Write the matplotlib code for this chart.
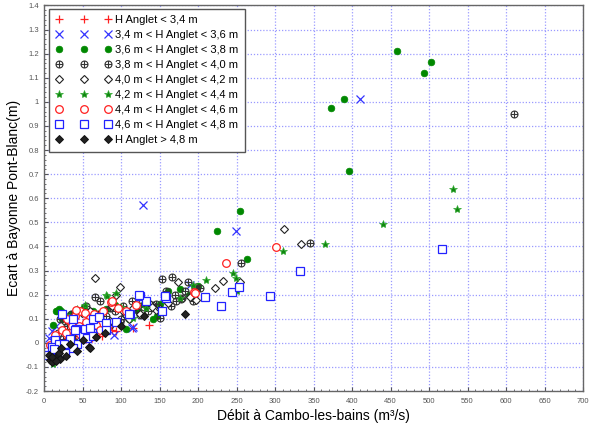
import matplotlib
matplotlib.use("Agg")
import matplotlib.pyplot as plt
from matplotlib.path import Path
from matplotlib.ticker import MultipleLocator
import numpy as np

plt.rcParams['font.family'] = ['Liberation Sans', 'DejaVu Sans']

labels = ["H Anglet < 3,4 m", "3,4 m < H Anglet < 3,6 m", "3,6 m < H Anglet < 3,8 m",
          "3,8 m < H Anglet < 4,0 m", "4,0 m < H Anglet < 4,2 m", "4,2 m < H Anglet < 4,4 m",
          "4,4 m < H Anglet < 4,6 m", "4,6 m < H Anglet < 4,8 m", "H Anglet > 4,8 m"]

x0 = [16, 12, 42, 55, 68, 88, 94, 116, 136, 30, 75, 20, 50, 62]
y0 = [-0.007, -0.028, 0.007, 0.014, 0.034, 0.055, 0.048, 0.062, 0.076, 0.02, 0.03, 0.0, 0.03, 0.02]

x1 = [6, 10, 16, 45, 62, 91, 115, 114, 128, 249, 411, 189]
y1 = [0.021, 0.048, 0.069, 0.048, 0.055, 0.034, 0.065, 0.062, 0.57, 0.465, 1.014, 0.242]

x2 = [12, 16, 22, 23, 29, 52, 64, 92, 107, 122, 142, 147, 161, 176, 200, 225, 254, 264,
      373, 389, 396, 459, 502, 493, 35, 80, 130, 188, 17, 20, 110, 150]
y2 = [0.076, 0.131, 0.134, 0.1, 0.11, 0.148, 0.131, 0.159, 0.058, 0.131, 0.097, 0.11, 0.214,
      0.225, 0.237, 0.465, 0.549, 0.349, 0.973, 1.014, 0.715, 1.211, 1.166, 1.120, 0.12, 0.14,
      0.16, 0.2, 0.131, 0.14, 0.1, 0.16]

x3 = [66, 153, 166, 150, 256, 187, 196, 21, 27, 55, 73, 86, 103, 114, 127, 140, 159, 170, 183,
      202, 47, 60, 86, 99, 112, 125, 135, 12, 25, 40, 345, 610, 35, 80, 120, 178, 172, 165, 179,
      194, 198, 105, 92, 130, 145, 18, 30, 70, 100]
y3 = [0.189, 0.266, 0.272, 0.101, 0.331, 0.252, 0.233, 0.097, 0.09, 0.152, 0.172, 0.145, 0.152,
      0.172, 0.178, 0.159, 0.214, 0.2, 0.214, 0.228, 0.062, 0.073, 0.076, 0.087, 0.109, 0.117,
      0.131, -0.041, 0.014, 0.028, 0.416, 0.951, 0.12, 0.11, 0.14, 0.18, 0.173, 0.152, 0.187,
      0.173, 0.228, 0.12, 0.13, 0.15, 0.16, 0.04, 0.07, 0.12, 0.1]

x4 = [66, 99, 174, 198, 222, 233, 255, 312, 34, 88, 103, 116, 137, 146, 161, 49, 73, 51, 86,
      334, 125, 150, 190, 93, 60, 110, 140]
y4 = [0.269, 0.23, 0.251, 0.177, 0.228, 0.255, 0.252, 0.473, 0.103, 0.152, 0.131, 0.145, 0.166,
      0.138, 0.166, 0.124, 0.11, 0.055, 0.09, 0.41, 0.12, 0.14, 0.19, 0.2, 0.13, 0.1, 0.15]

x5 = [12, 19, 43, 53, 81, 94, 29, 211, 245, 249, 251, 311, 176, 194, 66, 116, 133, 365, 440,
      531, 537, 82, 100, 160]
y5 = [-0.086, -0.055, 0.142, 0.159, 0.197, 0.207, 0.117, 0.259, 0.29, 0.269, 0.217, 0.38, 0.186,
      0.241, 0.11, 0.103, 0.145, 0.411, 0.495, 0.639, 0.556, 0.193, 0.15, 0.19]

x6 = [87, 195, 236, 301, 47, 53, 60, 40, 34, 68, 73, 58, 47, 36, 8, 14, 23, 29, 77, 42, 107,
      120, 96, 196, 88, 65, 55, 45, 30, 82]
y6 = [0.17, 0.21, 0.33, 0.396, 0.131, 0.124, 0.103, 0.11, 0.09, 0.076, 0.055, 0.062, 0.037,
      0.069, -0.01, 0.034, 0.055, 0.041, 0.131, 0.138, 0.131, 0.159, 0.145, 0.207, 0.173,
      0.12, 0.085, 0.07, 0.1, 0.06]

x7 = [24, 38, 42, 64, 72, 80, 81, 62, 50, 40, 32, 14, 11, 5, 20, 112, 125, 133, 158, 153, 209,
      230, 244, 253, 293, 333, 517, 43, 56, 38, 27, 16, 34, 53, 94, 60, 63, 26, 13, 124, 157, 111]
y7 = [0.121, 0.097, 0.059, 0.097, 0.106, 0.083, 0.054, 0.039, 0.028, 0.052, -0.018, 0.010,
      -0.017, -0.051, -0.007, 0.12, 0.196, 0.172, 0.186, 0.134, 0.19, 0.151, 0.21, 0.233, 0.193,
      0.30, 0.389, -0.003, 0.02, -0.02, -0.041, -0.062, 0.014, 0.058, 0.087, 0.062, 0.028,
      -0.007, -0.027, 0.2, 0.193, 0.118]

x8 = [183, 8, 11, 14, 7, 19, 22, 43, 58, 34, 51, 68, 79, 21, 29, 100, 130, 10, 16, 60]
y8 = [0.121, -0.073, -0.079, -0.062, -0.051, -0.041, -0.021, -0.032, -0.018, -0.004, 0.01,
      0.023, 0.041, -0.069, -0.055, 0.07, 0.11, -0.06, -0.075, -0.02]

xs = [x0, x1, x2, x3, x4, x5, x6, x7, x8]
ys = [y0, y1, y2, y3, y4, y5, y6, y7, y8]

# custom markers
circ = Path.unit_circle()
plus = Path([(-1, 0), (1, 0), (0, -1), (0, 1)],
            [Path.MOVETO, Path.LINETO, Path.MOVETO, Path.LINETO])
circle_plus = Path.make_compound_path(circ, plus)

styles = [
    dict(marker='+', color='#ff2020', ms=6, mew=0.9, mfc='none'),
    dict(marker='x', color='#3333ff', ms=6, mew=0.9, mfc='none'),
    dict(marker='o', color='#008800', ms=4.8, mew=0.5, mfc='#008800'),
    dict(marker=circle_plus, color='#333333', ms=5, mew=0.8, mfc='none'),
    dict(marker='D', color='#222222', ms=3.8, mew=0.8, mfc='white'),
    dict(marker='*', color='#33aa33', ms=6, mew=0.5, mfc='#118811'),
    dict(marker='o', color='#ff2020', ms=5.5, mew=0.9, mfc='white'),
    dict(marker='s', color='#2222ff', ms=5.5, mew=0.9, mfc='white'),
    dict(marker='D', color='#111111', ms=4, mew=0.7, mfc='#222222'),
]

fig = plt.figure(figsize=(5.91, 4.23), dpi=100)
ax = fig.add_axes([44/591, 1-391/423, (583-44)/591, (391-5.5)/423])

for x, y, lab, st in zip(xs, ys, labels, styles):
    ax.plot(x, y, linestyle='none', label=lab, **st)

ax.set_xlim(0, 700)
ax.set_ylim(-0.2, 1.4)
ax.xaxis.set_major_locator(MultipleLocator(50))
ax.xaxis.set_minor_locator(MultipleLocator(10))
ax.yaxis.set_minor_locator(MultipleLocator(0.02))
ax.set_yticks(np.arange(-0.2, 1.41, 0.1))
ax.set_yticklabels(['-0.2', '-0.1', '0', '0.1', '0.2', '0.3', '0.4', '0.5', '0.6', '0.7',
                    '0.8', '0.9', '1', '1.1', '1.2', '1.3', '1.4'])
ax.tick_params(axis='both', which='both', direction='in', labelsize=5.5,
               labelcolor='#555555', color='#555555')
ax.tick_params(which='major', length=3)
ax.tick_params(which='minor', length=1.5)
ax.tick_params(axis='x', pad=5)
ax.grid(True, which='major', color='#9a9aff', linestyle=(0, (1, 1.5)), linewidth=0.9)
ax.set_axisbelow(True)
for s in ax.spines.values():
    s.set_color('#666666')
    s.set_linewidth(1.0)

ax.set_xlabel('Débit à Cambo-les-bains (m³/s)', fontsize=10, labelpad=3)
ax.set_ylabel('Ecart à Bayonne Pont-Blanc(m)', fontsize=10, labelpad=4)

leg = ax.legend(loc='upper left', numpoints=3, handlelength=5.0, fontsize=8,
                fancybox=False, edgecolor='#555555', framealpha=1, borderpad=0.6,
                labelspacing=0.45, handletextpad=0.3, bbox_to_anchor=(0.01, 0.992),
                borderaxespad=0)
leg.get_frame().set_linewidth(1.0)

fig.savefig('out.png', dpi=100)
